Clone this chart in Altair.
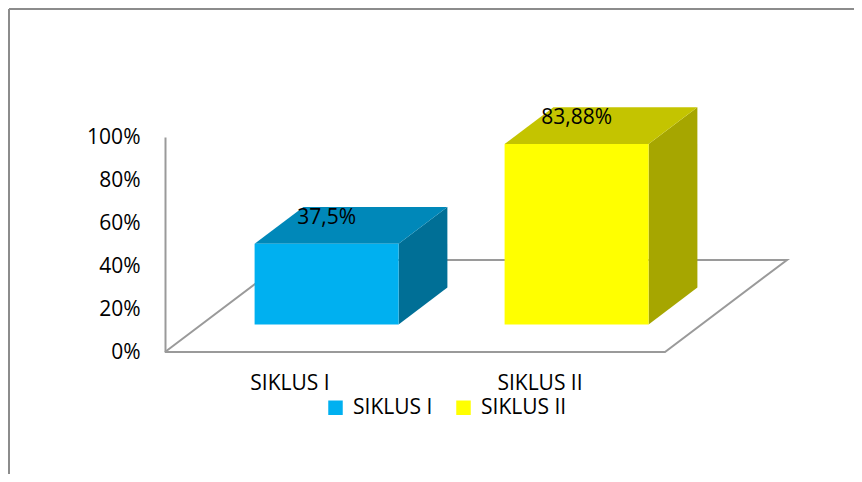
import altair as alt
import pandas as pd

# ---- data ----
categories = ["SIKLUS I", "SIKLUS II"]
values = [37.5, 83.88]
value_labels = ["37,5%", "83,88%"]
front_colors = ["#00B0F0", "#FFFF00"]
top_colors = ["#0088B9", "#C4C400"]
side_colors = ["#006F96", "#A6A600"]
y_ticks = [0, 20, 40, 60, 80, 100]

# ---- layout / style constants ----
W, H = 845, 465
FONT = "Open Sans"
FS = 21
GRAY = "#9A9A9A"
FDX = 0.488   # floor depth in category units
FDY = 42.8    # floor depth in percent units
D0, D1 = 0.30, 0.70   # bar depth start/end as fraction of floor depth
HALF = 0.288  # half bar width in category units
T = D1 - D0

xs = alt.Scale(domain=[-0.5, 1.5], range=[156, 656], nice=False, zero=False)
ys = alt.Scale(domain=[0, 100], range=[343, 128], nice=False, zero=False)
yaxis = alt.Axis(values=y_ticks, labelExpr="datum.value + '%'", title=None,
                 grid=False, ticks=False, offset=-156, labelPadding=25,
                 domainColor=GRAY, domainWidth=2, labelFont=FONT,
                 labelFontSize=FS, labelColor="#000000")

rows, side_rows, top_rows = [], [], []
for i, (c, v, lab) in enumerate(zip(categories, values, value_labels)):
    cx = i + D0 * FDX
    xl, xr = cx - HALF, cx + HALF
    yb = D0 * FDY
    yt = yb + v
    rows.append(dict(cat=c, idx=i, xl=xl, xr=xr, cx=cx, yb=yb, yt=yt,
                     ly=yt + 0.7 * T * FDY, label=lab))
    side_rows.append(dict(cat=c, x=xr, y=yb, y2=yt, col=side_colors[i]))
    side_rows.append(dict(cat=c, x=xr + T * FDX, y=yb + T * FDY, y2=yt + T * FDY,
                          col=side_colors[i]))
    top_rows.append(dict(cat=c, y=yt, x=xl, x2=xr, col=top_colors[i]))
    top_rows.append(dict(cat=c, y=yt + T * FDY, x=xl + T * FDX, x2=xr + T * FDX,
                         col=top_colors[i]))
bars = pd.DataFrame(rows)
side = pd.DataFrame(side_rows)
top = pd.DataFrame(top_rows)

floor = pd.DataFrame(dict(
    x=[-0.5, 1.5, 1.5 + FDX, -0.5 + FDX, -0.5],
    y=[0, 0, FDY, FDY, 0],
    o=[0, 1, 2, 3, 4]))

cats = pd.DataFrame(dict(cat=categories, idx=list(range(len(categories)))))
one = pd.DataFrame(dict(a=[0]))

border_left = alt.Chart(one).mark_rule(color="#8C8C8C", strokeWidth=2).encode(
    x=alt.value(0), y=alt.value(0), y2=alt.value(H))
border_top = alt.Chart(one).mark_rule(color="#8C8C8C", strokeWidth=2).encode(
    x=alt.value(0), x2=alt.value(W), y=alt.value(0))

floor_l = alt.Chart(floor).mark_line(color=GRAY, strokeWidth=2).encode(
    x=alt.X("x:Q", scale=xs, axis=None),
    y=alt.Y("y:Q", scale=ys, axis=yaxis),
    order="o:Q")

side_l = alt.Chart(side).mark_area().encode(
    x=alt.X("x:Q", scale=xs, axis=None),
    y=alt.Y("y:Q", scale=ys, axis=yaxis),
    y2="y2:Q",
    fill=alt.Fill("col:N", scale=None),
    detail="cat:N")

top_l = alt.Chart(top).mark_area(orient="horizontal").encode(
    y=alt.Y("y:Q", scale=ys, axis=yaxis),
    x=alt.X("x:Q", scale=xs, axis=None),
    x2="x2:Q",
    fill=alt.Fill("col:N", scale=None),
    detail="cat:N")

front_l = alt.Chart(bars).mark_rect().encode(
    x=alt.X("xl:Q", scale=xs, axis=None),
    x2="xr:Q",
    y=alt.Y("yb:Q", scale=ys, axis=yaxis),
    y2="yt:Q",
    color=alt.Color("cat:N",
                    scale=alt.Scale(domain=categories, range=front_colors),
                    legend=alt.Legend(title=None, orient="none", legendX=316,
                                      legendY=388, direction="horizontal",
                                      symbolType="square", symbolSize=210,
                                      symbolStrokeWidth=0, labelFont=FONT,
                                      labelFontSize=FS, labelColor="#000000",
                                      columnPadding=20, labelOffset=7,
                                      padding=0)))

label_l = alt.Chart(bars).mark_text(font=FONT, fontSize=FS, color="#000000",
                                    baseline="middle", align="center").encode(
    x=alt.X("cx:Q", scale=xs, axis=None),
    y=alt.Y("ly:Q", scale=ys, axis=yaxis),
    text="label:N")

xlab_l = alt.Chart(cats).mark_text(font=FONT, fontSize=FS, color="#000000",
                                   baseline="middle", align="center").encode(
    x=alt.X("idx:Q", scale=xs, axis=None),
    y=alt.value(375),
    text="cat:N")

chart = alt.layer(border_left, border_top, floor_l, side_l, top_l, front_l,
                  label_l, xlab_l).properties(
    width=W, height=H, autosize=alt.AutoSizeParams(type="none"),
    padding={"left": 1, "top": 1, "right": 0, "bottom": 0}
).configure_view(stroke=None).configure(background="#FFFFFF")

chart.save("out.html", embed_options={"renderer": "svg", "actions": False})
